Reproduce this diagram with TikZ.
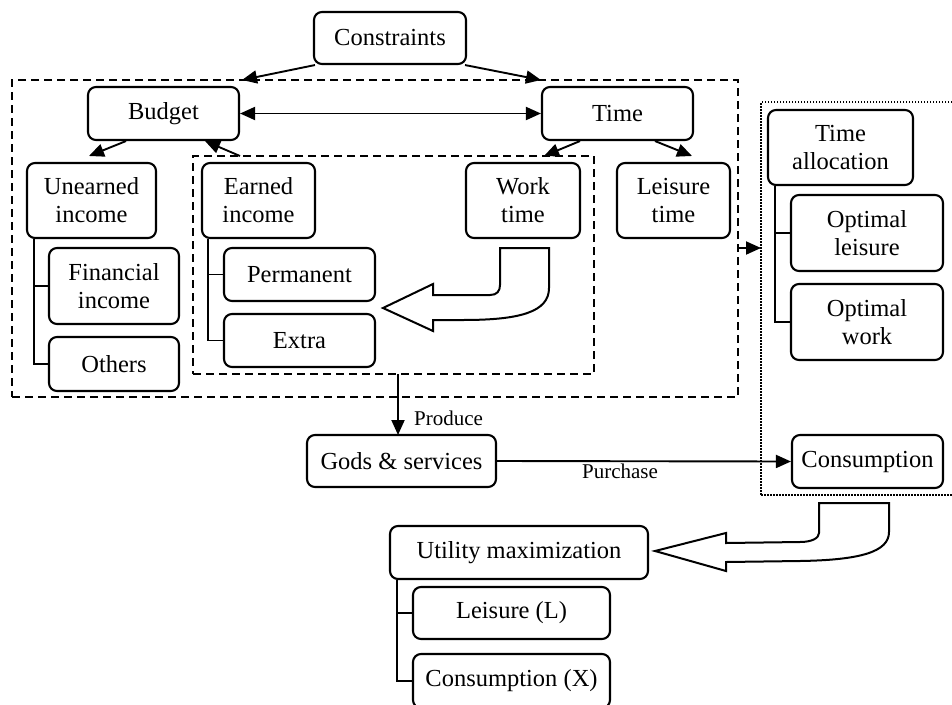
\documentclass[tikz,border=0pt]{standalone}
\usepackage{fontspec}
\setmainfont{Liberation Serif}
\usetikzlibrary{arrows.meta}
\begin{document}
\begin{tikzpicture}[x=1pt,y=-1pt,
  box/.style={draw,line width=2.1pt,rounded corners=8pt,align=center,inner sep=2pt,
    font=\fontsize{24.5}{28}\selectfont,fill=white},
  dashbox/.style={draw,line width=1.9pt,dash pattern=on 8pt off 5pt,inner sep=0pt},
  dotbox/.style={draw,line width=2pt,dash pattern=on 1.5pt off 1.5pt,inner sep=0pt},
  arr/.style={line width=1.9pt,-{Triangle[length=15pt,width=13pt]}},
  darr/.style={line width=1.9pt,{Triangle[length=15pt,width=13pt]}-{Triangle[length=15pt,width=13pt]}},
  tline/.style={line width=1.9pt},
  lbl/.style={font=\fontsize{21}{24}\selectfont,inner sep=0pt},
  bigarrow/.style={line width=2pt,fill=white,line join=miter}
]
\useasboundingbox (0,0) rectangle (952,704);

% containers
\node[dashbox,minimum width=726,minimum height=317] (outer) at (375,238.5) {};
\node[dashbox,minimum width=401,minimum height=218] (inner) at (393.5,265) {};
\node[dotbox,minimum width=199,minimum height=393] (dotted) at (860.5,298.5) {};

% boxes
\node[box,minimum width=152,minimum height=52] (constraints) at (390,38) {Constraints};
\node[box,minimum width=151,minimum height=53] (budget) at (163.5,113.5) {Budget};
\node[box,minimum width=151,minimum height=53] (time) at (617.5,113.5) {Time};
\node[box,minimum width=129,minimum height=75] (unearned) at (91.5,200.5) {Unearned\\income};
\node[box,minimum width=130,minimum height=76] (financial) at (114,286) {Financial\\income};
\node[box,minimum width=130,minimum height=54] (others) at (114,364) {Others};
\node[box,minimum width=113,minimum height=75] (earned) at (258.5,200.5) {Earned\\income};
\node[box,minimum width=151,minimum height=53] (permanent) at (299.5,274.5) {Permanent};
\node[box,minimum width=151,minimum height=53] (extra) at (299.5,340.5) {Extra};
\node[box,minimum width=114,minimum height=75] (work) at (523,200.5) {Work\\time};
\node[box,minimum width=113,minimum height=75] (leisure) at (673.5,200.5) {Leisure\\time};
\node[box,minimum width=145,minimum height=75] (timealloc) at (840.5,147.5) {Time\\allocation};
\node[box,minimum width=152,minimum height=76] (optleisure) at (867,233) {Optimal\\leisure};
\node[box,minimum width=152,minimum height=76] (optwork) at (867,322) {Optimal\\work};
\node[box,minimum width=189,minimum height=52] (gods) at (401.5,461) {Gods \& services};
\node[box,minimum width=151,minimum height=53] (consumption) at (867.5,461.5) {Consumption};
\node[box,minimum width=258,minimum height=53] (utility) at (519,552.5) {Utility maximization};
\node[box,minimum width=197,minimum height=52] (leisureL) at (511.5,613) {Leisure (L)};
\node[box,minimum width=197,minimum height=54] (consX) at (511.5,681) {Consumption (X)};

% tree lines
\draw[tline] ([xshift=8pt]unearned.south west) |- (financial.west);
\draw[tline] ([xshift=8pt]unearned.south west) |- (others.west);
\draw[tline] ([xshift=7pt]earned.south west) |- (permanent.west);
\draw[tline] ([xshift=7pt]earned.south west) |- (extra.west);
\draw[tline] ([xshift=8pt]timealloc.south west) |- (optleisure.west);
\draw[tline] ([xshift=8pt]timealloc.south west) |- (optwork.west);
\draw[tline] ([xshift=8pt]utility.south west) |- (leisureL.west);
\draw[tline] ([xshift=8pt]utility.south west) |- (consX.west);

% coordinates for free ends
\coordinate (cb) at (242,80);
\coordinate (ct) at (541,80);
\coordinate (ue) at (89,156);
\coordinate (bi) at (205,141);
\coordinate (is) at (240,156);
\coordinate (wt) at (544,156);
\coordinate (lt) at (692,156);
\coordinate (ob) at (738,248);
\coordinate (db) at (761,248);
\coordinate (pstart) at (398,374);
\coordinate (pend) at (398,435);

% arrows
\draw[arr] ([xshift=2pt]constraints.south west) -- (cb);
\draw[arr] ([xshift=-2pt]constraints.south east) -- (ct);
\draw[darr] (budget.east) -- (time.west);
\draw[arr] ([xshift=-37.5pt]budget.south) -- (ue);
\draw[arr] (is) -- (bi);
\draw[arr] ([xshift=-37.5pt]time.south) -- (wt);
\draw[arr] ([xshift=37.5pt]time.south) -- (lt);
\draw[arr] (ob) -- (db);
\draw[arr] (pstart) -- (pend);
\draw[arr] (gods.east) -- (consumption.west);

% labels
\node[lbl,anchor=west] (produce) at (414,418) {Produce};
\node[lbl] (purchase) at (620,471) {Purchase};

% big curved arrows
\draw[bigarrow] (500,248) -- (549,248) -- (549,288)
  .. controls (549,312) and (520,320) .. (463,320) -- (433,320) -- (433,331)
  -- (383,308) -- (433,284) -- (433,295) -- (490,295)
  .. controls (497,295) and (500,291) .. (500,285) -- cycle;
\draw[bigarrow] (819,503) -- (889,503) -- (889,532)
  .. controls (889,552) and (860,560) .. (800,561) -- (726,562) -- (726,571)
  -- (655,551) -- (726,533) -- (726,543) -- (800,542)
  .. controls (812,542) and (819,538) .. (819,533) -- cycle;
\end{tikzpicture}
\end{document}
